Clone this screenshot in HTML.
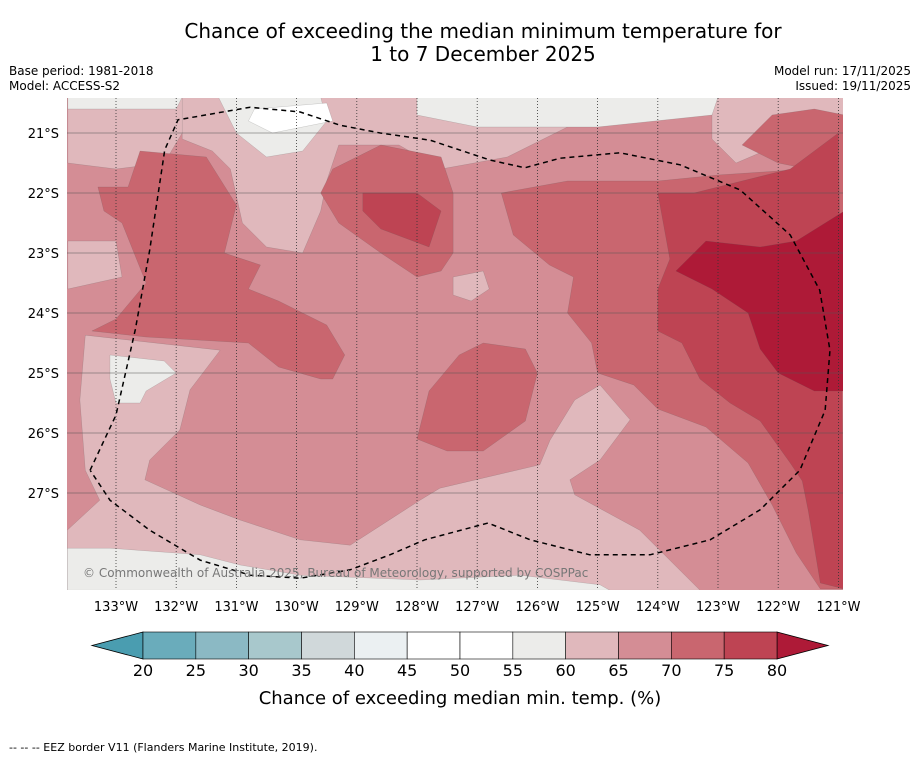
<!DOCTYPE html>
<html><head><meta charset="utf-8"><style>
body{margin:0;background:#fff;font-family:"Liberation Sans","DejaVu Sans",sans-serif;}
svg text{font-family:"DejaVu Sans","Liberation Sans",sans-serif;}
</style></head><body>
<svg id="chart" width="919" height="758" viewBox="0 0 919 758" xmlns="http://www.w3.org/2000/svg">
<rect width="919" height="758" fill="#fff"/>
<text x="483" y="38" font-size="20" text-anchor="middle">Chance of exceeding the median minimum temperature for</text>
<text x="483" y="61" font-size="20" text-anchor="middle">1 to 7 December 2025</text>
<text x="9" y="75" font-size="12">Base period: 1981-2018</text>
<text x="9" y="90" font-size="12">Model: ACCESS-S2</text>
<text x="911" y="75" font-size="12" text-anchor="end">Model run: 17/11/2025</text>
<text x="911" y="90" font-size="12" text-anchor="end">Issued: 19/11/2025</text>
<defs><clipPath id="mapclip"><rect x="67" y="98" width="776" height="492"/></clipPath></defs>
<g id="map" clip-path="url(#mapclip)"></g>
<g id="axes"></g>
<g id="cbar"></g>
<text x="460" y="704" font-size="18" text-anchor="middle">Chance of exceeding median min. temp. (%)</text>
<text x="9" y="751" font-size="11">--  --  -- EEZ border V11 (Flanders Marine Institute, 2019).</text>
</svg>
<script>
const lonTicks=[133,132,131,130,129,128,127,126,125,124,123,122,121];
const latTicks=[21,22,23,24,25,26,27];
const cbarLevels=[20,25,30,35,40,45,50,55,60,65,70,75,80];
const cbarColors=["#6aacbb","#8bb9c4","#a8c8cc","#d0d8da","#ebf0f2","#ffffff","#ffffff","#ececea","#e0b8bc","#d48d95","#c9666f","#be4453"];
const lowColor="#4a9db0", highColor="#ae1a37";
// contour fills: [level color, polygon in [lon W, lat S]]
const fills=[
["#e0b8bc",[[133.8,20.4],[131.6,20.4],[131.9,21.0],[132.2,21.5],[133.0,21.6],[133.8,21.5]]],
["#e0b8bc",[[131.9,20.4],[125.5,20.4],[125.5,20.9],[126.5,21.4],[127.6,21.6],[128.3,21.2],[129.3,21.2],[129.5,21.8],[129.6,22.3],[129.9,23.0],[130.5,22.9],[130.9,22.5],[131.1,21.6],[131.4,21.3],[131.9,21.1]]],
["#e0b8bc",[[123.1,20.4],[120.9,20.4],[120.9,21.1],[122.0,21.2],[122.7,21.5],[123.1,21.1]]],
["#e0b8bc",[[133.8,22.8],[133.0,22.8],[132.9,23.4],[133.8,23.6]]],
["#e0b8bc",[[133.51,24.37],[131.27,24.62],[131.77,25.28],[131.94,25.95],[132.44,26.45],[132.52,26.78],[131.6,27.2],[130.94,27.45],[129.94,27.78],[129.11,27.87],[127.95,27.12],[127.62,26.92],[125.96,26.53],[125.79,26.12],[125.38,25.45],[124.96,25.2],[124.46,25.78],[124.96,26.45],[125.46,26.78],[125.38,27.03],[124.3,27.62],[123.3,28.62],[133.81,28.62],[133.81,27.62],[133.27,27.12],[133.51,26.62],[133.6,25.45]]],
["#e0b8bc",[[127.4,23.4],[126.9,23.3],[126.8,23.6],[127.1,23.8],[127.4,23.7]]],
["#ececea",[[133.81,27.92],[133.1,27.92],[131.6,28.03],[130.94,28.2],[129.94,28.37],[127.95,28.45],[126.29,28.37],[124.96,28.53],[124.8,28.62],[133.81,28.62]]],
["#ececea",[[133.8,20.4],[131.9,20.4],[132.0,20.6],[133.8,20.6]]],
["#ececea",[[131.3,20.4],[129.6,20.4],[129.5,20.8],[129.9,21.3],[130.5,21.4],[131.0,21.0]]],
["#ececea",[[128.0,20.4],[123.0,20.4],[123.1,20.7],[125.0,20.9],[127.0,20.9],[128.0,20.7]]],
["#ffffff",[[130.7,20.6],[129.5,20.5],[129.4,20.8],[130.4,21.0],[130.8,20.8]]],
["#ececea",[[133.1,24.7],[132.2,24.8],[132.0,25.0],[132.5,25.3],[132.6,25.5],[133.0,25.5],[133.1,25.1]]],
["#c9666f",[[132.6,21.3],[131.5,21.4],[131.0,22.2],[131.2,23.0],[130.6,23.2],[130.8,23.6],[130.3,23.8],[129.5,24.2],[129.2,24.7],[129.4,25.1],[129.6,25.1],[130.3,24.9],[130.8,24.5],[132.5,24.4],[133.4,24.3],[133.0,24.1],[132.5,23.5],[132.9,22.5],[133.2,22.3],[133.3,21.9],[132.8,21.9]]],
["#c9666f",[[129.4,21.6],[128.6,21.2],[127.6,21.4],[127.4,22.0],[127.4,23.0],[127.6,23.3],[128.0,23.4],[128.6,23.0],[129.3,22.5],[129.6,22.0]]],
["#c9666f",[[127.8,25.3],[128.0,26.1],[127.5,26.3],[126.9,26.3],[126.2,25.8],[126.0,25.0],[126.2,24.6],[126.9,24.5],[127.3,24.7]]],
["#c9666f",[[126.6,22.0],[126.4,22.7],[125.8,23.2],[125.4,23.4],[125.5,24.0],[125.1,24.5],[125.0,25.0],[124.4,25.2],[124.0,25.6],[123.2,25.9],[122.5,26.5],[122.1,27.2],[121.7,28.0],[121.3,28.6],[120.9,28.6],[120.9,20.7],[121.4,20.6],[122.1,20.7],[122.6,21.2],[122.0,21.5],[121.5,21.6],[123.0,21.7],[124.0,21.8],[125.5,21.8]]],
["#be4453",[[128.9,22.0],[128.0,22.0],[127.6,22.3],[127.8,22.9],[128.6,22.6],[128.9,22.3]]],
["#be4453",[[124.0,22.0],[123.4,22.0],[121.8,21.6],[121.4,21.3],[121.0,21.0],[120.9,28.6],[121.3,28.5],[121.5,27.3],[121.6,26.8],[121.8,26.5],[122.3,25.8],[122.8,25.5],[123.3,25.1],[123.6,24.5],[124.0,24.3],[124.0,23.6],[123.8,23.1]]],
["#ae1a37",[[123.7,23.3],[123.2,22.8],[122.3,22.9],[121.7,22.8],[120.9,22.3],[120.9,25.3],[121.4,25.3],[122.0,25.0],[122.3,24.6],[122.5,24.0],[123.1,23.6]]]
];
const eez=[[133.43,26.62],[133,25.70],[132.68,24.28],[132.44,22.95],[132.19,21.28],[131.97,20.78],[130.77,20.57],[129.94,20.65],[129.28,20.87],[128.61,21],[127.78,21.12],[126.79,21.45],[126.21,21.58],[125.62,21.42],[124.63,21.33],[123.63,21.53],[122.63,21.95],[121.80,22.70],[121.31,23.62],[121.14,24.62],[121.22,25.62],[121.64,26.62],[122.30,27.28],[123.13,27.78],[124.13,28.03],[125.13,28.03],[126.12,27.78],[126.82,27.5],[127.87,27.78],[128.45,28.03],[129.11,28.28],[129.94,28.42],[130.77,28.37],[131.60,28.12],[132.44,27.62],[133.10,27.12],[133.43,26.62]];
const NS="http://www.w3.org/2000/svg";
const X=lon=>116+(133-lon)*60.2;
const Y=lat=>133+(lat-21)*60;
function mk(tag,attrs,parent){const e=document.createElementNS(NS,tag);for(const k in attrs)e.setAttribute(k,attrs[k]);parent.appendChild(e);return e;}
const map=document.getElementById('map');
const bg=mk('rect',{x:67,y:98,width:776,height:492,fill:"#d48d95"},map);


fills.forEach((f,i)=>{
  const p=mk('polygon',{points:f[1].map(q=>X(q[0])+","+Y(q[1])).join(" "),fill:f[0],stroke:"#555",'stroke-width':0.3,'stroke-opacity':0.5},map);
  
  
});
lonTicks.forEach(l=>{
  const g=mk('line',{x1:X(l),x2:X(l),y1:98,y2:590,stroke:"#333",'stroke-width':0.8,'stroke-dasharray':'1,2'},map);
  
  
});
latTicks.forEach(l=>{
  const g=mk('line',{x1:67,x2:843,y1:Y(l),y2:Y(l),stroke:"#555",'stroke-width':0.6},map);
  
  
});
const ez=mk('polyline',{points:eez.map(q=>X(q[0])+","+Y(q[1])).join(" "),fill:"none",stroke:"#000",'stroke-width':1.5,'stroke-dasharray':'5,4'},map);


const cp=mk('text',{x:83,y:577,'font-size':12,fill:"#777"},map);
cp.textContent="© Commonwealth of Australia 2025, Bureau of Meteorology, supported by COSPPac";


const axes=document.getElementById('axes');
lonTicks.forEach(l=>{
  const t=mk('text',{x:X(l),y:611,'font-size':13,'text-anchor':'middle'},axes);
  t.textContent=l+"°W";
  
  
});
latTicks.forEach(l=>{
  const t=mk('text',{x:59,y:Y(l)+5,'font-size':13,'text-anchor':'end'},axes);
  t.textContent=l+"°S";
  
  
});
const cb=document.getElementById('cbar');
const cx0=143,cx1=777,cy=632,ch=27;
const cw=(cx1-cx0)/cbarColors.length;
const lo=mk('polygon',{points:`${cx0},${cy} ${92},${cy+ch/2} ${cx0},${cy+ch}`,fill:lowColor,stroke:"#000",'stroke-width':0.8},cb);


const hi=mk('polygon',{points:`${cx1},${cy} ${828},${cy+ch/2} ${cx1},${cy+ch}`,fill:highColor,stroke:"#000",'stroke-width':0.8},cb);


cbarColors.forEach((c,i)=>{
  const r=mk('rect',{x:cx0+i*cw,y:cy,width:cw,height:ch,fill:c,stroke:"#000",'stroke-width':0.6},cb);
  
  
});
cbarLevels.forEach((v,i)=>{
  const t=mk('text',{x:cx0+i*cw,y:676,'font-size':16,'text-anchor':'middle'},cb);
  t.textContent=v;
  
  
});
</script>
</body></html>
